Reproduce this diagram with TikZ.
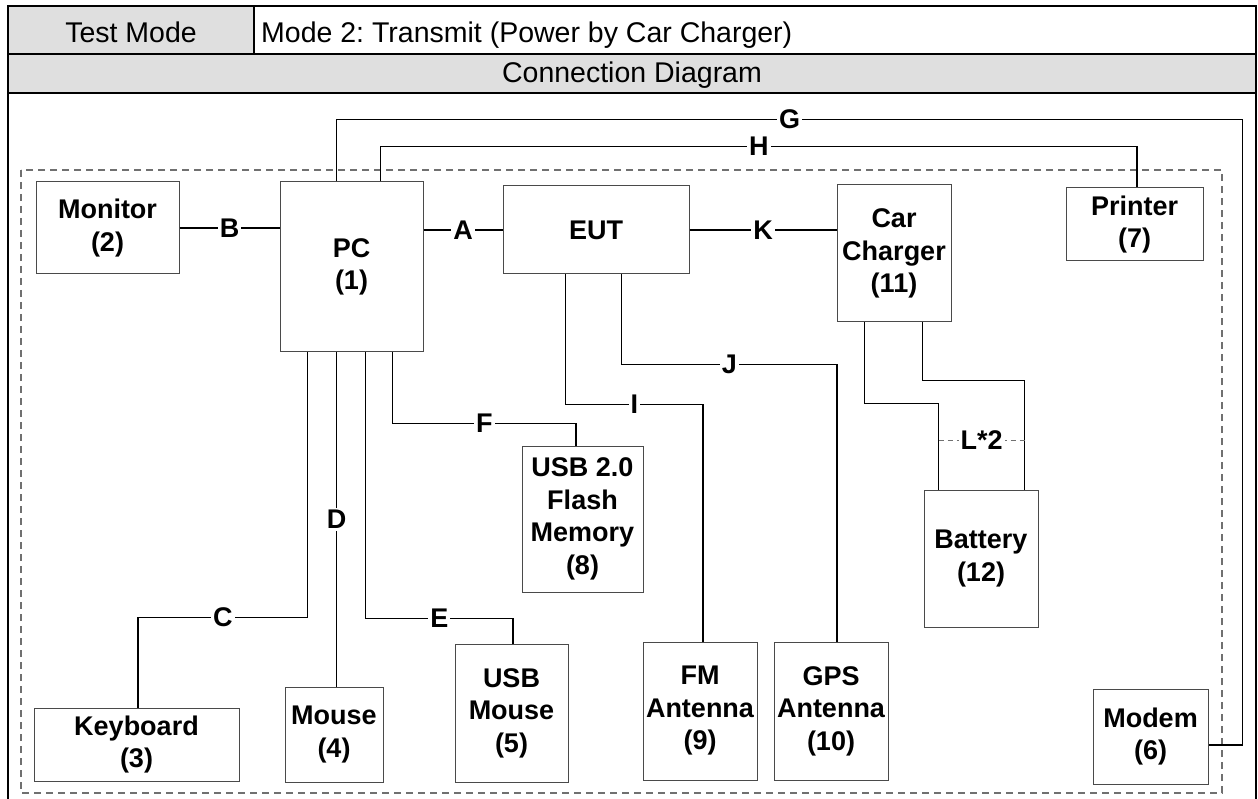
\documentclass[tikz,border=0pt]{standalone}
\usepackage{fontspec}
\setmainfont{Liberation Sans}
\frenchspacing
\definecolor{hdrgray}{HTML}{DFDFDF}
\definecolor{boxline}{HTML}{4A4A4A}
\definecolor{dashgray}{HTML}{707070}
\tikzset{
  dev/.style={draw=boxline, line width=1pt, align=center, inner sep=0pt,
    font=\bfseries\fontsize{27}{32.5}\selectfont},
  wire/.style={line width=1.6pt, black},
  lab/.style={fill=white, text=black, inner sep=2pt, font=\bfseries\fontsize{27}{32}\selectfont},
  hdr/.style={inner sep=0pt, font=\fontsize{28.5}{32}\selectfont},
  frame/.style={line width=2.6pt, black},
  encl/.style={draw=dashgray, line width=1.1pt, dash pattern=on 7pt off 5pt},
}
\begin{document}
\begin{tikzpicture}[x=1pt,y=-1pt]
\useasboundingbox (0,0) rectangle (1258,799);
% header
\fill[hdrgray] (8,6) rectangle (254,54);
\fill[hdrgray] (8,54) rectangle (1256,93);
\node[hdr, anchor=base] (tm) at (131,43) {Test Mode};
\node[hdr, anchor=base west] (md) at (261,43) {Mode 2: Transmit (Power by Car Charger)};
\node[hdr, anchor=base] (cd) at (632,83) {Connection Diagram};
\draw[frame] (8,799) -- (8,6) -- (1256,6) -- (1256,799);
\draw[frame] (8,54) -- (1256,54);
\draw[frame] (8,93) -- (1256,93);
\draw[line width=2pt] (254,6) -- (254,54);
% enclosure
\draw[encl] (21,170) rectangle (1222,793);
% devices
\node[dev, minimum width=143pt, minimum height=92pt] (mon) at (107.5,228) {Monitor\\(2)};
\node[dev, minimum width=143pt, minimum height=170pt] (pc) at (351.5,267) {PC\\(1)};
\node[dev, minimum width=186pt, minimum height=88pt] (eut) at (596,230) {EUT};
\node[dev, minimum width=114pt, minimum height=137pt] (cc) at (894,253.5) {Car\\Charger\\(11)};
\node[dev, minimum width=137pt, minimum height=73pt] (prn) at (1134.5,224.5) {Printer\\(7)};
\node[dev, minimum width=121pt, minimum height=146pt] (flash) at (582.5,519) {USB 2.0\\Flash\\Memory\\(8)};
\node[dev, minimum width=114pt, minimum height=137pt] (bat) at (981,558.5) {Battery\\(12)};
\node[dev, minimum width=205pt, minimum height=73pt] (kb) at (136.5,744.5) {Keyboard\\(3)};
\node[dev, minimum width=98pt, minimum height=95pt] (mouse) at (334,734.5) {Mouse\\(4)};
\node[dev, minimum width=113pt, minimum height=138pt] (usbm) at (511.5,713) {USB\\Mouse\\(5)};
\node[dev, minimum width=114pt, minimum height=138pt] (fm) at (700,711) {FM\\Antenna\\(9)};
\node[dev, minimum width=114pt, minimum height=138pt] (gps) at (831,711) {GPS\\Antenna\\(10)};
\node[dev, minimum width=115pt, minimum height=95pt] (modem) at (1150.5,736.5) {Modem\\(6)};
% connectors
\draw[wire] (mon.east) -- node[lab]{B} (mon.east -| pc.west);
\draw[wire] (pc.east |- eut.west) -- node[lab]{A} (eut.west);
\draw[wire] (eut.east) -- node[lab]{K} (eut.east -| cc.west);
\draw[wire] ([xshift=57pt]pc.north west) -- ++(0,-62) -- node[lab]{G} ++(906,0) |- ([yshift=-8.5pt]modem.east);
\draw[wire] ([xshift=101pt]pc.north west) -- ++(0,-35) -| node[lab,pos=0.25]{H} ([xshift=2.5pt]prn.north);
\draw[wire] ([xshift=28pt]pc.south west) -- ++(0,265) -| node[lab,pos=0.25]{C} ([xshift=1.5pt]kb.north);
\draw[wire] ([xshift=57pt]pc.south west) coordinate (d0) -- node[lab]{D} (d0 |- mouse.north);
\draw[wire] ([xshift=86pt]pc.south west) -- ++(0,266) -| node[lab,pos=0.25]{E} ([xshift=1.5pt]usbm.north);
\draw[wire] ([xshift=113pt]pc.south west) -- ++(0,71) -| node[lab,pos=0.25]{F} ([xshift=-6.5pt]flash.north);
\draw[wire] ([xshift=63pt]eut.south west) -- ++(0,130) -| node[lab,pos=0.25]{I} ([xshift=3pt]fm.north);
\draw[wire] ([xshift=119pt]eut.south west) -- ++(0,90) -| node[lab,pos=0.25]{J} ([xshift=6pt]gps.north);
\coordinate (l1) at ([xshift=15pt]bat.north west);
\coordinate (l2) at ([xshift=-14pt]bat.north east);
\draw[wire] ([xshift=28pt]cc.south west) -- ++(0,81) -| (l1);
\draw[wire] ([xshift=86pt]cc.south west) -- ++(0,58) -| (l2);
\draw[dashgray, line width=1pt, dash pattern=on 5pt off 4pt] ([yshift=49pt]l1) -- node[lab]{L*2} ([yshift=49pt]l2);
\end{tikzpicture}
\end{document}
